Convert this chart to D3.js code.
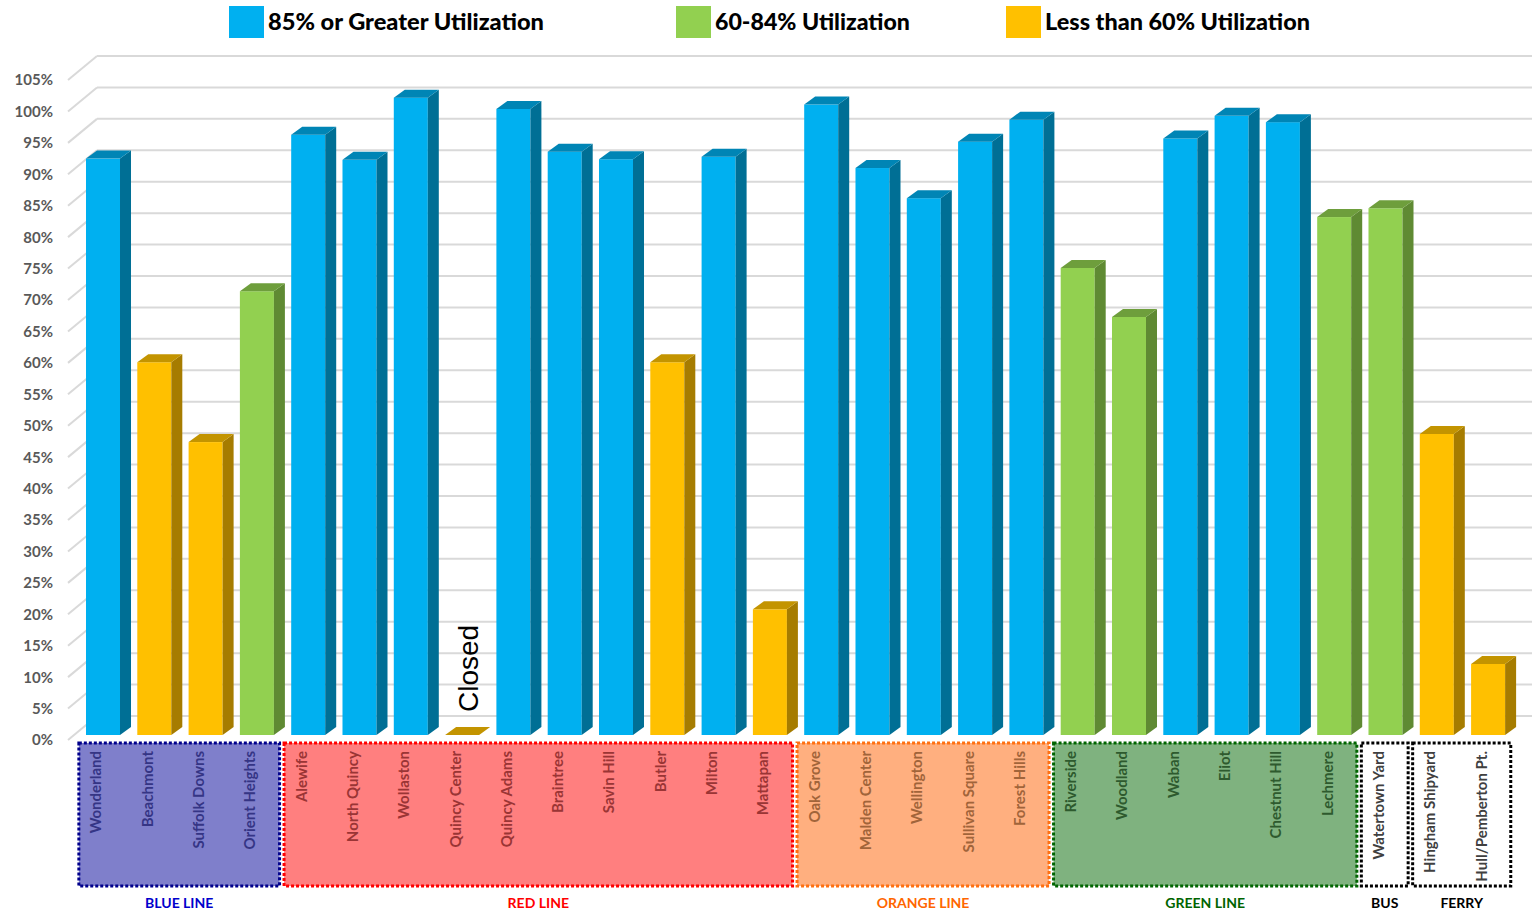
<!DOCTYPE html>
<html>
<head>
<meta charset="utf-8">
<script src="https://cdn.jsdelivr.net/npm/d3@7"></script>
<style>
    body { margin: 0; background: #fff; }
    text { font-family: Lato, "Open Sans", sans-serif; }
    text.closed { font-family: "Liberation Sans", Arial, sans-serif; }
</style>
</head>
<body>
<div id="chart"></div>
<script>
// station names, in drawing order
const stations = [
    'Wonderland', 'Beachmont', 'Suffolk Downs', 'Orient Heights',
    'Alewife', 'North Quincy', 'Wollaston', 'Quincy Center', 'Quincy Adams', 'Braintree',
    'Savin Hill', 'Butler', 'Milton', 'Mattapan',
    'Oak Grove', 'Malden Center', 'Wellington', 'Sullivan Square', 'Forest Hills',
    'Riverside', 'Woodland', 'Waban', 'Eliot', 'Chestnut Hill', 'Lechmere',
    'Watertown Yard',
    'Hingham Shipyard', 'Hull/Pemberton Pt.'
];

// line each station belongs to
const stationLine = [
    'BLUE LINE', 'BLUE LINE', 'BLUE LINE', 'BLUE LINE',
    'RED LINE', 'RED LINE', 'RED LINE', 'RED LINE', 'RED LINE', 'RED LINE',
    'RED LINE', 'RED LINE', 'RED LINE', 'RED LINE',
    'ORANGE LINE', 'ORANGE LINE', 'ORANGE LINE', 'ORANGE LINE', 'ORANGE LINE',
    'GREEN LINE', 'GREEN LINE', 'GREEN LINE', 'GREEN LINE', 'GREEN LINE', 'GREEN LINE',
    'BUS',
    'FERRY', 'FERRY'
];

// parking utilization in %
const utilization = [
    91.7, 59.3, 46.6, 70.6,
    95.5, 91.5, 101.4, 0, 99.6, 92.8,
    91.6, 59.3, 92.0, 20.0,
    100.3, 90.2, 85.4, 94.4, 97.9,
    74.3, 66.5, 94.9, 98.5, 97.5, 82.4,
    83.8,
    47.9, 11.3
];

const closedStations = ['Quincy Center'];

const lines = ['BLUE LINE', 'RED LINE', 'ORANGE LINE', 'GREEN LINE', 'BUS', 'FERRY'];

const legendLabels = ['85% or Greater Utilization', '60-84% Utilization', 'Less than 60% Utilization'];

const yTicks = [0, 5, 10, 15, 20, 25, 30, 35, 40, 45, 50, 55, 60, 65, 70, 75, 80, 85, 90, 95, 100, 105];


class Bar3DChart {

    constructor(_config) {
        this.config = {
            parentElement: _config.parentElement,
            containerWidth: _config.containerWidth || 1532,
            containerHeight: _config.containerHeight || 915
        };
        this.data = stations.map((s, i) => ({ station: s, line: stationLine[i], value: utilization[i] }));
        this.initVis();
    }

    initVis() {
        let vis = this;

        vis.svg = d3.select(vis.config.parentElement)
            .append('svg')
            .attr('width', vis.config.containerWidth)
            .attr('height', vis.config.containerHeight);

        // front plane of the axis wall
        vis.yScale = d3.scaleLinear().domain([0, 105]).range([740, 80]);

        vis.xScale = d3.scaleBand()
            .domain(stations)
            .range([77.35, 1513.75])
            .paddingInner(0.337)
            .paddingOuter(0.1685);

        // depth offsets (back wall and bar depth)
        vis.wall = { dx: 29, dy: -24, x0: 68, x1: 1532 };
        vis.depth = { dx: 11, dy: -8 };
        vis.barLift = -5;

        vis.colorScale = d3.scaleThreshold()
            .domain([60, 85])
            .range(['yellow', 'green', 'blue']);

        vis.faces = {
            blue:   { front: '#00B0F0', side: '#006F95', top: '#0085B5' },
            green:  { front: '#92D050', side: '#5F8A33', top: '#6E9E3C' },
            yellow: { front: '#FFC000', side: '#A67C00', top: '#C39400' }
        };

        vis.lineStyle = {
            'BLUE LINE':   { fill: '#7F7FCB', stroke: '#00008B', text: '#353585', title: '#0000CC' },
            'RED LINE':    { fill: '#FF7F7F', stroke: '#FF0000', text: '#9A3535', title: '#FF0000' },
            'ORANGE LINE': { fill: '#FFAF7F', stroke: '#FF6F10', text: '#A1643A', title: '#FF6600' },
            'GREEN LINE':  { fill: '#7FB27F', stroke: '#006400', text: '#2E5A2E', title: '#006400' },
            'BUS':         { fill: '#FFFFFF', stroke: '#000000', text: '#404040', title: '#000000' },
            'FERRY':       { fill: '#FFFFFF', stroke: '#000000', text: '#404040', title: '#000000' }
        };

        vis.updateVis();
    }

    updateVis() {
        let vis = this;

        // extent of each line along the x axis
        vis.lineGroups = lines.map(l => {
            let members = vis.data.filter(d => d.line === l);
            let step = vis.xScale.step();
            let start = vis.xScale(members[0].station) - step * vis.xScale.paddingOuter();
            return { line: l, x0: start + 1.5, x1: start + step * members.length - 3 };
        });

        vis.renderVis();
    }

    renderVis() {
        let vis = this;
        const y = vis.yScale;
        const w = vis.wall;

        // back wall gridlines and side wall diagonals
        let grid = vis.svg.append('g').attr('class', 'grid');
        grid.selectAll('.back')
            .data(yTicks)
            .join('line')
            .attr('class', 'back')
            .attr('x1', w.x0 + w.dx).attr('x2', w.x1)
            .attr('y1', d => y(d) + w.dy).attr('y2', d => y(d) + w.dy)
            .attr('stroke', '#D9D9D9')
            .attr('stroke-width', 2);
        grid.selectAll('.side')
            .data(yTicks)
            .join('line')
            .attr('class', 'side')
            .attr('x1', w.x0).attr('x2', w.x0 + w.dx)
            .attr('y1', d => y(d)).attr('y2', d => y(d) + w.dy)
            .attr('stroke', '#D9D9D9')
            .attr('stroke-width', 2);

        vis.svg.append('g').selectAll('text')
            .data(yTicks)
            .join('text')
            .attr('x', 53)
            .attr('y', d => y(d))
            .attr('dy', '0.36em')
            .attr('text-anchor', 'end')
            .attr('font-size', 15)
            .attr('font-weight', 700)
            .attr('fill', '#595959')
            .text(d => d + '%');

        // bars
        const dx = vis.depth.dx, dy = vis.depth.dy;
        let bars = vis.svg.append('g').selectAll('g')
            .data(vis.data)
            .join('g');

        const x0 = d => vis.xScale(d.station);
        const x1 = d => vis.xScale(d.station) + vis.xScale.bandwidth();
        const yb = () => y(0) + vis.barLift;
        const yt = d => y(d.value) + vis.barLift;

        bars.append('rect')
            .attr('x', x0)
            .attr('y', yt)
            .attr('width', vis.xScale.bandwidth())
            .attr('height', d => yb() - yt(d))
            .attr('fill', d => vis.faces[vis.colorScale(d.value)].front);

        bars.append('path')
            .attr('d', d => `M${x1(d)},${yb()}L${x1(d) + dx},${yb() + dy}L${x1(d) + dx},${yt(d) + dy}L${x1(d)},${yt(d)}Z`)
            .attr('fill', d => vis.faces[vis.colorScale(d.value)].side);

        bars.append('path')
            .attr('d', d => `M${x0(d)},${yt(d)}L${x0(d) + dx},${yt(d) + dy}L${x1(d) + dx},${yt(d) + dy}L${x1(d)},${yt(d)}Z`)
            .attr('fill', d => vis.faces[vis.colorScale(d.value)].top);

        // closed station note
        vis.svg.append('g').selectAll('text')
            .data(closedStations)
            .join('text')
            .attr('class', 'closed')
            .attr('transform', d => `translate(${vis.xScale(d) + 33},${y(0) - 28}) rotate(-90)`)
            .attr('font-size', 28)
            .attr('fill', '#000')
            .text('Closed');

        // line boxes
        let boxes = vis.svg.append('g').selectAll('g')
            .data(vis.lineGroups)
            .join('g');

        boxes.append('rect')
            .attr('x', d => d.x0)
            .attr('y', 743)
            .attr('width', d => d.x1 - d.x0)
            .attr('height', 143)
            .attr('fill', d => vis.lineStyle[d.line].fill)
            .attr('stroke', d => vis.lineStyle[d.line].stroke)
            .attr('stroke-width', 3)
            .attr('stroke-dasharray', '3,2');

        boxes.append('text')
            .attr('x', d => (d.x0 + d.x1) / 2)
            .attr('y', 908)
            .attr('text-anchor', 'middle')
            .attr('font-size', 14)
            .attr('font-weight', 700)
            .attr('fill', d => vis.lineStyle[d.line].title)
            .text(d => d.line);

        // station labels
        vis.svg.append('g').selectAll('text')
            .data(vis.data)
            .join('text')
            .attr('transform', d => `translate(${vis.xScale(d.station) + 15.5},751) rotate(-90)`)
            .attr('text-anchor', 'end')
            .attr('font-size', 15)
            .attr('font-weight', 700)
            .attr('fill', d => vis.lineStyle[d.line].text)
            .text(d => d.station);

        // legend
        const legendX = [229, 676, 1006];
        const legendW = [276, 195, 265];
        const legendColors = ['blue', 'green', 'yellow'];
        let legend = vis.svg.append('g').selectAll('g')
            .data(legendLabels)
            .join('g')
            .attr('transform', (d, i) => `translate(${legendX[i]},0)`);

        legend.append('rect')
            .attr('x', 0).attr('y', 6)
            .attr('width', 35).attr('height', 32)
            .attr('fill', (d, i) => vis.faces[legendColors[i]].front);

        legend.append('text')
            .attr('x', 39)
            .attr('y', 30)
            .attr('font-size', 22)
            .attr('font-weight', 900)
            .attr('fill', '#000')
            .attr('textLength', (d, i) => legendW[i])
            .attr('lengthAdjust', 'spacingAndGlyphs')
            .text(d => d);
    }
}

new Bar3DChart({ parentElement: '#chart' });
</script>
</body>
</html>
